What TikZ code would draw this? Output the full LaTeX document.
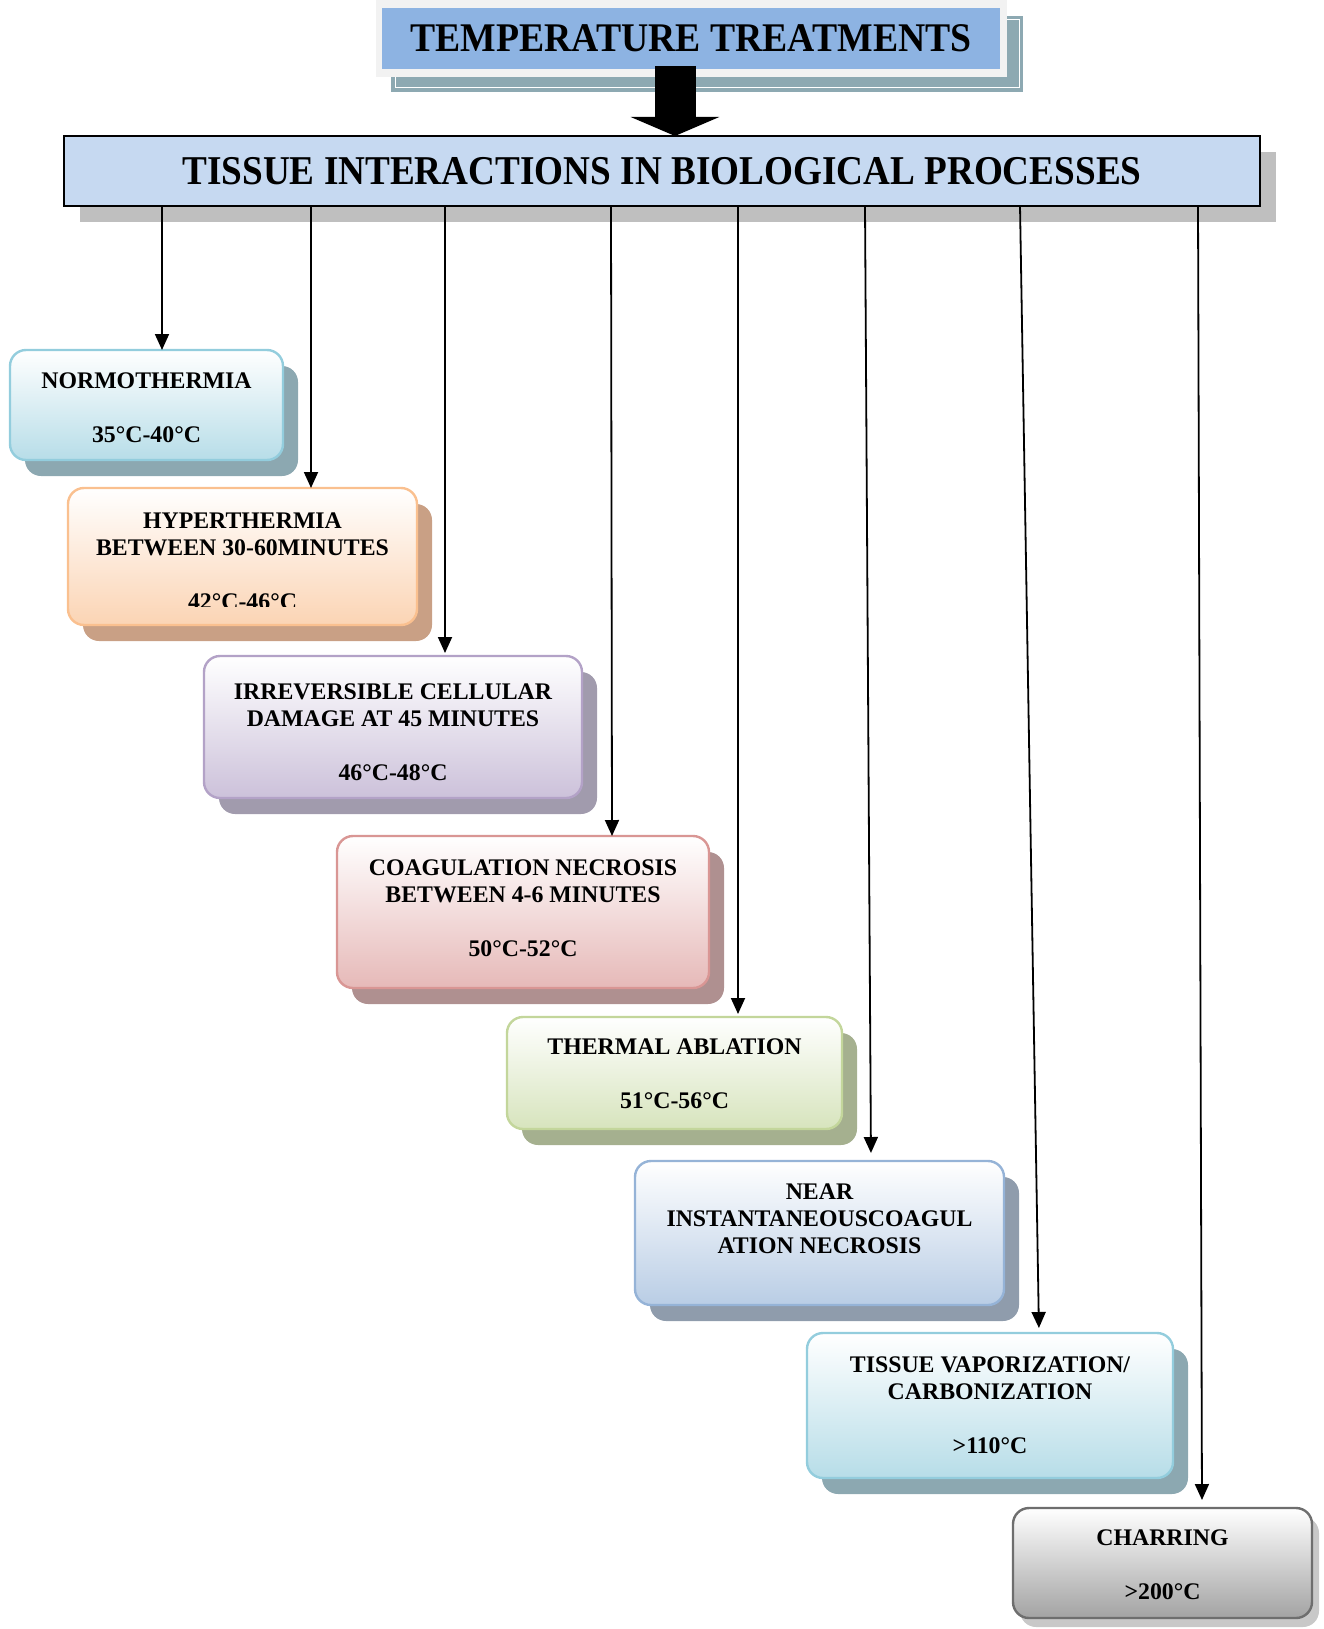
\documentclass[tikz,border=0pt]{standalone}
\usepackage{fontspec}
\setmainfont{Liberation Serif}
\usepackage{graphicx}
\usetikzlibrary{arrows.meta,shadows}

% header colours
\definecolor{framegray}{HTML}{F2F2F2}
\definecolor{treatblue}{HTML}{8DB3E2}
\definecolor{treatshadow}{HTML}{8DA9B2}
\definecolor{tissueblue}{HTML}{C6D9F1}
\definecolor{tissueshadow}{HTML}{BFBFBF}
% stage colours: fill bottom, border, shadow
\definecolor{cyanfill}{HTML}{B7DDE8}
\definecolor{cyanline}{HTML}{93CDDD}
\definecolor{cyanshadow}{HTML}{8CA8B1}
\definecolor{peachfill}{HTML}{FBD4B4}
\definecolor{peachline}{HTML}{FAC08F}
\definecolor{peachshadow}{HTML}{C9A085}
\definecolor{lilacfill}{HTML}{CCC1DA}
\definecolor{lilacline}{HTML}{B3A2C7}
\definecolor{lilacshadow}{HTML}{A19BAD}
\definecolor{rosefill}{HTML}{E6B9B8}
\definecolor{roseline}{HTML}{D99694}
\definecolor{roseshadow}{HTML}{AF9090}
\definecolor{olivefill}{HTML}{D7E4BD}
\definecolor{oliveline}{HTML}{C3D69B}
\definecolor{oliveshadow}{HTML}{A5B08F}
\definecolor{steelfill}{HTML}{B9CDE5}
\definecolor{steelline}{HTML}{95B3D7}
\definecolor{steelshadow}{HTML}{8F9CAC}
\definecolor{grayfill}{HTML}{A3A3A3}
\definecolor{grayline}{HTML}{6E6E6E}
\definecolor{grayshadow}{HTML}{C8C8C8}

\tikzset{
  stage/.style 2 args={draw=#2, line width=2.4pt, rounded corners=16pt,
    top color=white, bottom color=#1, inner sep=0pt, outer sep=0pt},
  sh/.style={general shadow={fill=#1, shadow xshift=15pt, shadow yshift=-16pt}},
  lbl/.style={anchor=base, inner sep=0pt, font=\bfseries\fontsize{23.8}{27}\selectfont},
  conn/.style={line width=1.8pt, -{Triangle[length=16pt,width=14pt]}},
}

\begin{document}
\begin{tikzpicture}[x=1pt,y=-1pt]
\useasboundingbox (0,0) rectangle (1323,1629);

% header: raised frame with shadow
\fill[treatshadow] (391,16) rectangle (1023,92);
\draw[white, line width=1pt] (395,20) rectangle (1019,88);
\fill[framegray] (376,0) rectangle (1007,77);
\node[fill=treatblue, minimum width=618pt, minimum height=61pt, inner sep=0pt, outer sep=0pt]
  (treat) at (691,38.5)
  {\scalebox{1}[1.08]{\bfseries\fontsize{37.7}{40}\selectfont TEMPERATURE TREATMENTS}};

\node[fill=tissueblue, draw=black, line width=1.8pt, minimum width=1196pt, minimum height=70pt,
  inner sep=0pt, outer sep=0pt,
  general shadow={fill=tissueshadow, shadow xshift=16pt, shadow yshift=-16pt}]
  (tissue) at (662,171)
  {\scalebox{1}[1.1]{\bfseries\fontsize{37.2}{40}\selectfont TISSUE INTERACTIONS IN BIOLOGICAL PROCESSES}};

% block arrow between the two headers
\draw[line width=41pt, -{Triangle[length=19pt,width=88pt]}]
  ([xshift=-16pt,yshift=3pt]treat.south) -- ([xshift=13pt]tissue.north);

% stages
\node[stage={cyanfill}{cyanline}, sh=cyanshadow, minimum width=273pt, minimum height=110pt]
  (normo) at (146.5,405) {};
\node[lbl] (normo-t) at ([yshift=-38pt]normo.north)
  {\begin{tabular}[t]{@{}c@{}}NORMOTHERMIA\\ \\ 35°C-40°C\end{tabular}};

\node[stage={peachfill}{peachline}, sh=peachshadow, minimum width=349pt, minimum height=137pt]
  (hyper) at (242.5,556.5) {};
\begin{scope}
  \clip (hyper.north west) rectangle ([yshift=19pt]hyper.south east);
  \node[lbl] (hyper-t) at ([yshift=-40pt]hyper.north)
    {\begin{tabular}[t]{@{}c@{}}HYPERTHERMIA\\ BETWEEN 30-60MINUTES\\ \\ 42°C-46°C\end{tabular}};
\end{scope}

\node[stage={lilacfill}{lilacline}, sh=lilacshadow, minimum width=378pt, minimum height=142pt]
  (irrev) at (393,727) {};
\node[lbl] (irrev-t) at ([yshift=-43pt]irrev.north)
  {\begin{tabular}[t]{@{}c@{}}IRREVERSIBLE CELLULAR\\ DAMAGE AT 45 MINUTES\\ \\ 46°C-48°C\end{tabular}};

\node[stage={rosefill}{roseline}, sh=roseshadow, minimum width=372pt, minimum height=152pt]
  (coag) at (523,912) {};
\node[lbl] (coag-t) at ([yshift=-39pt]coag.north)
  {\begin{tabular}[t]{@{}c@{}}COAGULATION NECROSIS\\ BETWEEN 4-6 MINUTES\\ \\ 50°C-52°C\end{tabular}};

\node[stage={olivefill}{oliveline}, sh=oliveshadow, minimum width=335pt, minimum height=112pt]
  (therm) at (674.5,1073) {};
\node[lbl] (therm-t) at ([yshift=-37pt]therm.north)
  {\begin{tabular}[t]{@{}c@{}}THERMAL ABLATION\\ \\ 51°C-56°C\end{tabular}};

\node[stage={steelfill}{steelline}, sh=steelshadow, minimum width=369pt, minimum height=144pt]
  (near) at (819.5,1233) {};
\node[lbl] (near-t) at ([yshift=-38pt]near.north)
  {\begin{tabular}[t]{@{}c@{}}NEAR\\ INSTANTANEOUSCOAGUL\\ ATION NECROSIS\end{tabular}};

\node[stage={cyanfill}{cyanline}, sh=cyanshadow, minimum width=366pt, minimum height=145pt]
  (vapor) at (990,1405.5) {};
\node[lbl] (vapor-t) at ([yshift=-39pt]vapor.north)
  {\begin{tabular}[t]{@{}c@{}}TISSUE VAPORIZATION/\\ CARBONIZATION\\ \\ >110°C\end{tabular}};

\node[stage={grayfill}{grayline},
  general shadow={fill=grayshadow, shadow xshift=7pt, shadow yshift=-9pt},
  minimum width=299pt, minimum height=110pt]
  (char) at (1162.5,1563) {};
\node[lbl] (char-t) at ([yshift=-37pt]char.north)
  {\begin{tabular}[t]{@{}c@{}}CHARRING\\ \\ >200°C\end{tabular}};

% connectors from the header to each stage
\draw[conn] ([xshift=98pt]tissue.south west) -- ([xshift=152pt]normo.north west);
\draw[conn] ([xshift=247pt]tissue.south west) -- ([xshift=243pt]hyper.north west);
\draw[conn, shorten >=3pt] ([xshift=381pt]tissue.south west) -- ([xshift=241pt]irrev.north west);
\draw[conn] ([xshift=547pt]tissue.south west) -- ([xshift=275pt]coag.north west);
\draw[conn, shorten >=3pt] ([xshift=674pt]tissue.south west) -- ([xshift=231pt]therm.north west);
\draw[conn, shorten >=8pt] ([xshift=801pt]tissue.south west) -- ([xshift=236pt]near.north west);
\draw[conn, shorten >=5pt] ([xshift=956pt]tissue.south west) -- ([xshift=232pt]vapor.north west);
\draw[conn, shorten >=8pt] ([xshift=1134pt]tissue.south west) -- ([xshift=189pt]char.north west);
\end{tikzpicture}
\end{document}
